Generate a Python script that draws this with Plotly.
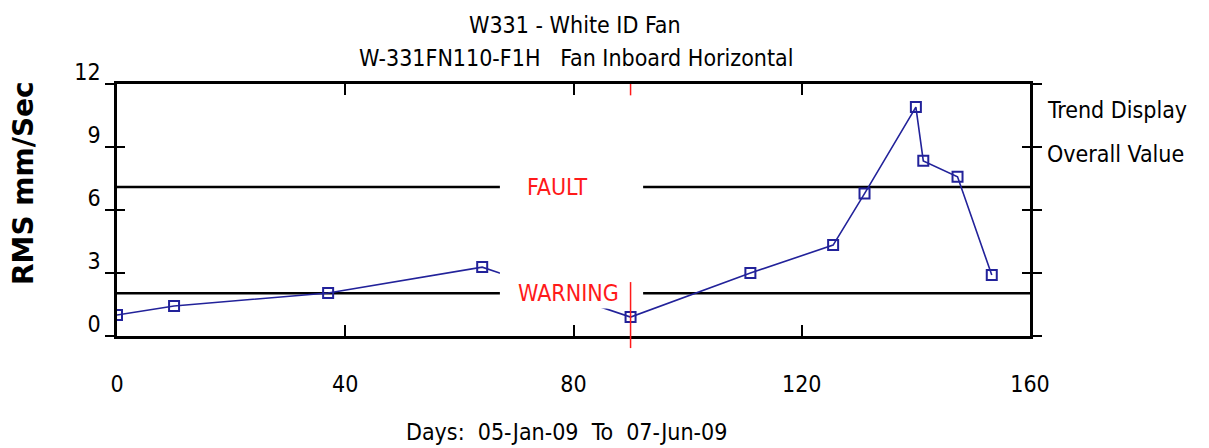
import plotly.graph_objects as go

# ---- data ----
days = [0, 10, 37, 64, 90, 111, 125.5, 131, 140, 141.3, 147.3, 153.3]
rms = [1.0, 1.43, 2.05, 3.28, 0.9, 3.0, 4.33, 6.78, 10.9, 8.34, 7.58, 2.9]
x_ticks = [0, 40, 80, 120, 160]
y_ticks = [0, 3, 6, 9, 12]
fault_level = 7.1
warning_level = 2.03
cursor_day = 90

title1 = "W331 - White ID Fan"
title2 = "W-331FN110-F1H&nbsp;&nbsp;&nbsp;Fan Inboard Horizontal"
x_title = "Days:&nbsp;&nbsp;05-Jan-09&nbsp;&nbsp;To&nbsp;&nbsp;07-Jun-09"
y_title = "RMS mm/Sec"

FONT = "DejaVu Sans Condensed, Liberation Sans Narrow, Arial Narrow, sans-serif"
FS = 23
NAVY = "#22229a"
RED = "#ff1a1a"

fig = go.Figure()
fig.add_trace(go.Scatter(
    x=days, y=rms, mode="lines+markers",
    line=dict(color=NAVY, width=1.6),
    marker=dict(symbol="square-open", size=10, color=NAVY, line=dict(width=2, color=NAVY)),
    showlegend=False, hoverinfo="x+y",
))
# invisible trace on overlay axis for inward ticks
fig.add_trace(go.Scatter(x=[0], y=[0], yaxis="y2", mode="markers",
                         marker=dict(opacity=0), showlegend=False, hoverinfo="skip"))

shapes = []
for lvl in (fault_level, warning_level):
    shapes.append(dict(type="line", xref="paper", yref="y", x0=0, x1=1, y0=lvl, y1=lvl,
                       line=dict(color="black", width=2.5), layer="below"))
# white gaps behind the labels
gap_x0, gap_x1 = 67.1, 92.2
shapes.append(dict(type="rect", xref="x", yref="y", x0=gap_x0, x1=gap_x1,
                   y0=fault_level - 0.85, y1=fault_level + 0.9,
                   fillcolor="white", line=dict(width=0), layer="above"))
shapes.append(dict(type="rect", xref="x", yref="y", x0=gap_x0, x1=gap_x1,
                   y0=warning_level - 0.72, y1=warning_level + 1.05,
                   fillcolor="white", line=dict(width=0), layer="above"))
# cursor
shapes.append(dict(type="line", xref="x", yref="paper", x0=cursor_day, x1=cursor_day,
                   y0=-0.048, y1=0.214, line=dict(color=RED, width=1.5), layer="above"))
shapes.append(dict(type="line", xref="x", yref="paper", x0=cursor_day, x1=cursor_day,
                   y0=0.955, y1=1.0, line=dict(color=RED, width=1.5), layer="above"))

annotations = [
    dict(text=title1, xref="paper", yref="paper", x=0.5016, y=1.234, showarrow=False,
         xanchor="center", yanchor="middle", font=dict(size=FS, color="black", family=FONT)),
    dict(text=title2, xref="paper", yref="paper", x=0.503, y=1.103, showarrow=False,
         xanchor="center", yanchor="middle", font=dict(size=FS, color="black", family=FONT)),
    dict(text=x_title, xref="paper", yref="paper", x=0.492, y=-0.381, showarrow=False,
         xanchor="center", yanchor="middle", font=dict(size=FS, color="black", family=FONT)),
    dict(text=y_title, xref="paper", yref="paper", x=-0.103, y=0.607, showarrow=False,
         textangle=-90, xanchor="center", yanchor="middle",
         font=dict(size=28, color="black", family="DejaVu Sans", weight="bold")),
    dict(text="Trend Display", xref="paper", yref="paper", x=1.0164, y=0.897, showarrow=False,
         xanchor="left", yanchor="middle", font=dict(size=FS, color="black", family=FONT)),
    dict(text="Overall Value", xref="paper", yref="paper", x=1.0164, y=0.722, showarrow=False,
         xanchor="left", yanchor="middle", font=dict(size=FS, color="black", family=FONT)),
    dict(text="FAULT", xref="x", yref="y", x=77.1, y=fault_level, showarrow=False,
         xanchor="center", yanchor="middle", font=dict(size=FS, color=RED, family=FONT)),
    dict(text="WARNING", xref="x", yref="y", x=79.2, y=warning_level, showarrow=False,
         xanchor="center", yanchor="middle", font=dict(size=FS, color=RED, family=FONT)),
]

fig.update_layout(
    width=1209, height=448,
    margin=dict(l=117, r=179, t=84, b=112, pad=0),
    paper_bgcolor="white", plot_bgcolor="white",
    shapes=shapes, annotations=annotations,
    xaxis=dict(range=[0, 160], tickvals=x_ticks, ticktext=[str(v) for v in x_ticks],
               ticks="inside", ticklen=11, tickwidth=2, tickcolor="black",
               showline=True, linecolor="black", linewidth=2.5, mirror="ticks",
               showgrid=False, zeroline=False, ticklabelstandoff=26,
               tickfont=dict(size=FS, color="black", family=FONT)),
    yaxis=dict(range=[0, 12], tickvals=y_ticks, ticktext=[str(v) for v in y_ticks],
               ticks="outside", ticklen=9, tickwidth=2, tickcolor="black",
               showline=True, linecolor="black", linewidth=2.5, mirror="ticks",
               showgrid=False, zeroline=False, ticklabelshift=-12,
               tickfont=dict(size=FS, color="black", family=FONT)),
    yaxis2=dict(range=[0, 12], overlaying="y", side="left", tickvals=y_ticks,
                ticks="inside", ticklen=8, tickwidth=2, tickcolor="black",
                showticklabels=False, showline=False, mirror="ticks",
                showgrid=False, zeroline=False),
)

fig.write_html("out.html", post_script="document.body.style.margin='0';",
               config={"displayModeBar": False})
